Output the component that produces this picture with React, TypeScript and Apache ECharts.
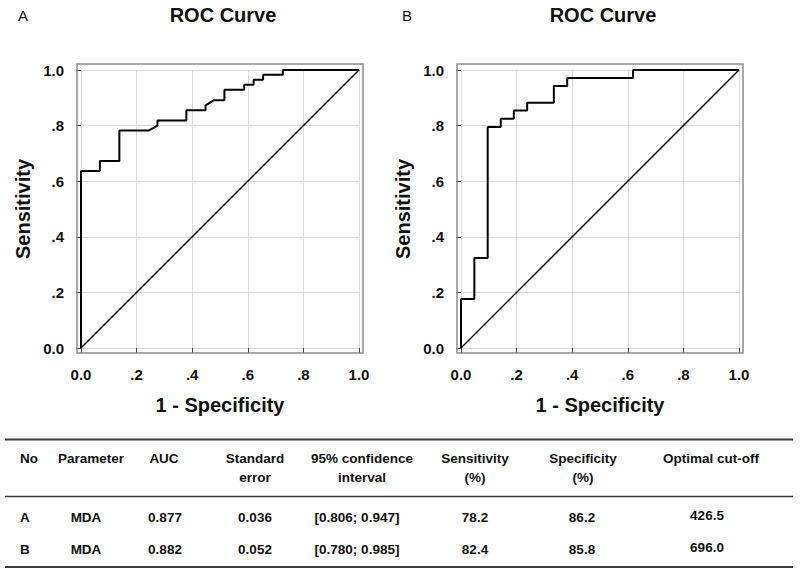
import React, { useEffect, useRef } from "react";
import * as echarts from "echarts";

// ROC curve A (1 - specificity, sensitivity)
const fprA = [0, 0, 0.068, 0.068, 0.138, 0.138, 0.243, 0.275, 0.275, 0.379, 0.379, 0.448, 0.448, 0.477, 0.516, 0.516, 0.587, 0.587, 0.621, 0.621, 0.655, 0.655, 0.726, 0.726, 1.0];
const tprA = [0, 0.637, 0.637, 0.673, 0.673, 0.782, 0.782, 0.8, 0.818, 0.818, 0.855, 0.855, 0.873, 0.891, 0.891, 0.929, 0.929, 0.947, 0.947, 0.965, 0.965, 0.983, 0.983, 1.0, 1.0];
// ROC curve B
const fprB = [0, 0, 0.048, 0.048, 0.096, 0.096, 0.143, 0.143, 0.19, 0.19, 0.238, 0.238, 0.334, 0.334, 0.382, 0.382, 0.619, 0.619, 1.0];
const tprB = [0, 0.176, 0.176, 0.324, 0.324, 0.795, 0.795, 0.825, 0.825, 0.854, 0.854, 0.8825, 0.8825, 0.942, 0.942, 0.971, 0.971, 1.0, 1.0];
// reference line
const refX = [0, 1];
const refY = [0, 1];

const panelLetters = ["A", "B"];
const chartTitle = "ROC Curve";
const xName = "1 - Specificity";
const yName = "Sensitivity";

// table
const tableHeaders = [["No"], ["Parameter"], ["AUC"], ["Standard", "error"], ["95% confidence", "interval"], ["Sensitivity", "(%)"], ["Specificity", "(%)"], ["Optimal cut-off"]];
const rowNo = ["A", "B"];
const rowParam = ["MDA", "MDA"];
const rowAuc = ["0.877", "0.882"];
const rowSe = ["0.036", "0.052"];
const rowCi = ["[0.806; 0.947]", "[0.780; 0.985]"];
const rowSens = ["78.2", "82.4"];
const rowSpec = ["86.2", "85.8"];
const rowCutoff = ["426.5", "696.0"];

const FONT = "'Liberation Sans', Arial, Helvetica, sans-serif";
const TXT = "#111";

const zip = (xs: number[], ys: number[]) => xs.map((x, i) => [x, ys[i]]);

const tickFmt = (v: number) => {
  if (Math.abs(v) < 1e-9) return "0.0";
  if (Math.abs(v - 1) < 1e-9) return "1.0";
  return v.toFixed(1).replace(/^0/, "");
};

export default function App() {
  const ref = useRef<HTMLDivElement>(null);

  useEffect(() => {
    if (!ref.current) return;
    const chart = echarts.init(ref.current, undefined, { renderer: "svg" });

    const gridLefts = [81, 461];
    const grids = gridLefts.map((l) => ({ left: l, top: 70, width: 278, height: 278 }));

    const xAxes = gridLefts.map((_, i) => ({
      gridIndex: i,
      type: "value",
      min: 0,
      max: 1,
      interval: 0.2,
      offset: 5,
      axisLine: { show: false },
      axisTick: { show: true, length: 5, lineStyle: { color: "#444", width: 1 } },
      axisLabel: { formatter: tickFmt, margin: 14, fontSize: 15, fontWeight: "bold", color: TXT, fontFamily: FONT },
      splitLine: { show: true, lineStyle: { color: "#d9d9d9", width: 1 } },
      name: xName,
      nameLocation: "middle",
      nameGap: 42,
      nameTextStyle: { fontSize: 20, fontWeight: "bold", color: TXT, fontFamily: FONT },
    }));

    const yAxes = gridLefts.map((_, i) => ({
      gridIndex: i,
      type: "value",
      min: 0,
      max: 1,
      interval: 0.2,
      offset: 4,
      axisLine: { show: false },
      axisTick: { show: true, length: 5, lineStyle: { color: "#444", width: 1 } },
      axisLabel: { formatter: tickFmt, margin: 13, fontSize: 15, fontWeight: "bold", color: TXT, fontFamily: FONT },
      splitLine: { show: true, lineStyle: { color: "#d9d9d9", width: 1 } },
      name: yName,
      nameLocation: "middle",
      nameGap: 44,
      nameTextStyle: { fontSize: 20, fontWeight: "bold", color: TXT, fontFamily: FONT },
    }));

    const curves = [zip(fprA, tprA), zip(fprB, tprB)];
    const series: any[] = [];
    curves.forEach((data, i) => {
      series.push({
        type: "line",
        xAxisIndex: i,
        yAxisIndex: i,
        data,
        showSymbol: false,
        symbol: "none",
        lineStyle: { color: "#000", width: 2 },
        z: 3,
      });
      series.push({
        type: "line",
        xAxisIndex: i,
        yAxisIndex: i,
        data: zip(refX, refY),
        showSymbol: false,
        symbol: "none",
        lineStyle: { color: "#000", width: 1.5 },
        z: 2,
      });
    });

    const titles = gridLefts.map((l) => ({
      text: chartTitle,
      left: l + 137,
      top: 0,
      textAlign: "center",
      textStyle: { fontSize: 20, fontWeight: "bold", color: TXT, fontFamily: FONT },
    }));

    const graphics: any[] = [];
    // frames
    gridLefts.forEach((l) => {
      graphics.push({
        type: "rect",
        shape: { x: l - 4, y: 64, width: 286, height: 289 },
        style: { fill: "none", stroke: "#8c8c8c", lineWidth: 1.5 },
        z: 10,
      });
    });
    // panel letters
    const letterX = [18, 402];
    panelLetters.forEach((t, i) => {
      graphics.push({
        type: "text",
        x: letterX[i],
        y: 15,
        style: { text: t, font: `15px ${FONT}`, fill: TXT, verticalAlign: "middle", align: "left" },
      });
    });

    // table lines
    const lines = [
      { y: 439.5, w: 2 },
      { y: 496.5, w: 1.5 },
      { y: 567, w: 2 },
    ];
    lines.forEach((ln) => {
      graphics.push({
        type: "line",
        shape: { x1: 5, y1: ln.y, x2: 793, y2: ln.y },
        style: { stroke: "#3a3a3a", lineWidth: ln.w },
      });
    });

    const headX = [20, 91, 164, 255, 362, 475, 583, 711];
    const dataX = [20, 86, 165, 255, 357, 475, 582, 707];
    tableHeaders.forEach((lines2, c) => {
      lines2.forEach((t, k) => {
        graphics.push({
          type: "text",
          x: headX[c],
          y: 458 + k * 19.5,
          style: {
            text: t,
            fontSize: 13.5,
            fontWeight: "bold",
            fontFamily: FONT,
            fill: TXT,
            align: c === 0 ? "left" : "center",
            verticalAlign: "middle",
          },
        });
      });
    });
    const cols = [rowNo, rowParam, rowAuc, rowSe, rowCi, rowSens, rowSpec, rowCutoff];
    const rowY = [517, 549];
    cols.forEach((col, c) => {
      col.forEach((t, r) => {
        graphics.push({
          type: "text",
          x: dataX[c],
          y: rowY[r] - (c === 7 ? 2 : 0),
          style: {
            text: t,
            fontSize: 13.5,
            fontWeight: "bold",
            fontFamily: FONT,
            fill: TXT,
            align: c === 0 ? "left" : "center",
            verticalAlign: "middle",
          },
        });
      });
    });

    chart.setOption({
      animation: false,
      backgroundColor: "#fff",
      title: titles,
      grid: grids,
      xAxis: xAxes,
      yAxis: yAxes,
      series,
      graphic: graphics,
    } as any);

    return () => chart.dispose();
  }, []);

  return (
    <div
      ref={ref}
      style={{ position: "fixed", left: 0, top: 0, width: 800, height: 574, background: "#fff" }}
    />
  );
}
